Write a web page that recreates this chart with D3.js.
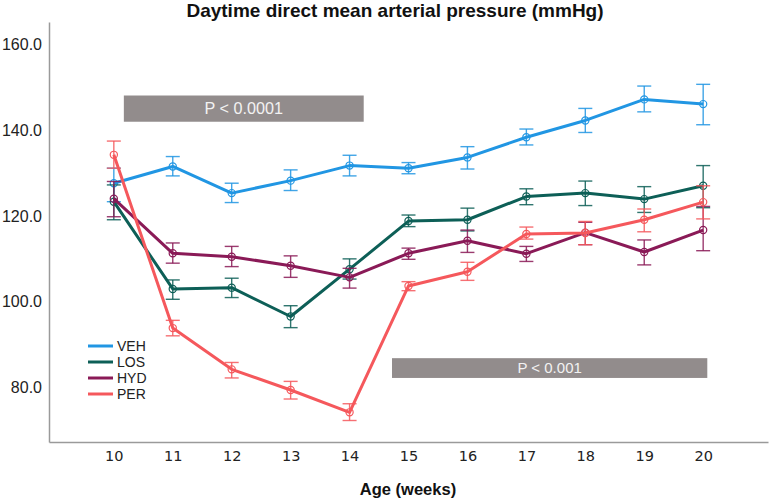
<!DOCTYPE html>
<html>
<head>
<meta charset="utf-8">
<script src="https://cdn.jsdelivr.net/npm/d3@7"></script>
<style>
  body { margin: 0; background: #fff; }
  svg { display: block; }
</style>
</head>
<body>
<svg id="chart"></svg>
<script>
// weeks of age
const weeks = [10, 11, 12, 13, 14, 15, 16, 17, 18, 19, 20];

// means and error bar ends
const vehMean = [127.6, 131.5, 125.3, 128.2, 131.7, 131.1, 133.6, 138.3, 142.2, 147.1, 146.0];
const vehLo   = [123.3, 129.3, 123.1, 125.9, 129.3, 129.8, 130.9, 136.5, 139.4, 144.2, 141.2];
const vehHi   = [131.1, 133.8, 127.6, 130.7, 134.1, 132.4, 136.1, 140.2, 145.0, 150.2, 150.6];

const losMean = [123.3, 103.0, 103.3, 96.6, 107.6, 118.8, 119.1, 124.5, 125.3, 123.9, 127.0];
const losLo   = [119.1, 100.6, 101.0, 94.0, 105.3, 117.5, 116.5, 122.6, 122.4, 120.8, 121.9];
const losHi   = [127.2, 105.1, 105.5, 99.1, 110.0, 120.2, 121.8, 126.3, 128.1, 126.8, 131.7];

const hydMean = [124.0, 111.3, 110.5, 108.4, 105.7, 111.3, 114.2, 111.2, 116.1, 111.6, 116.7];
const hydLo   = [119.8, 109.0, 108.2, 105.7, 103.2, 109.9, 111.5, 109.4, 113.3, 108.6, 111.9];
const hydHi   = [128.0, 113.7, 112.9, 110.7, 107.8, 112.5, 116.7, 112.9, 118.5, 114.4, 122.2];

const perMean = [134.2, 93.9, 84.3, 79.5, 74.3, 103.7, 107.0, 115.8, 116.0, 119.1, 123.2];
const perLo   = [131.1, 92.1, 82.3, 77.4, 72.4, 102.6, 105.0, 114.6, 113.3, 116.3, 119.3];
const perHi   = [137.4, 95.7, 85.9, 81.5, 76.3, 104.7, 109.2, 117.4, 118.7, 121.6, 127.0];

const groups = ["VEH", "LOS", "HYD", "PER"];
const yTicks = [80, 100, 120, 140, 160];

// significance bands: label, week span, value span
const bandLabels = ["P < 0.0001", "P < 0.001"];
const bandX = [[10.17, 14.24], [14.72, 20.07]];
const bandY = [[141.9, 148.0], [82.3, 86.9]];
const bandFont = [16.2, 15];

const colors = {VEH: "#2196e3", LOS: "#0d5f57", HYD: "#8a1a57", PER: "#f5585c"};

const series = [
    {name: "VEH", mean: vehMean, lo: vehLo, hi: vehHi},
    {name: "LOS", mean: losMean, lo: losLo, hi: losHi},
    {name: "HYD", mean: hydMean, lo: hydLo, hi: hydHi},
    {name: "PER", mean: perMean, lo: perLo, hi: perHi}
];

const W = 771, H = 501;
const margin = {top: 22, right: 3, bottom: 59, left: 49},
    width = W - margin.left - margin.right,
    height = H - margin.top - margin.bottom;

const svgRoot = d3.select("#chart")
    .attr("width", W)
    .attr("height", H);

const svg = svgRoot.append("g")
    .attr("transform", `translate(${margin.left},${margin.top})`);

const x = d3.scaleLinear()
    .domain([8.9, 21.1])
    .range([0, width]);

const y = d3.scaleLinear()
    .domain([67.4, 165.1])
    .range([height, 0]);

// significance bands
bandLabels.forEach((lab, i) => {
    svg.append("rect")
        .attr("x", x(bandX[i][0]))
        .attr("y", y(bandY[i][1]))
        .attr("width", x(bandX[i][1]) - x(bandX[i][0]))
        .attr("height", y(bandY[i][0]) - y(bandY[i][1]))
        .attr("fill", "#928c8c");
    svg.append("text")
        .attr("x", (x(bandX[i][0]) + x(bandX[i][1])) / 2)
        .attr("y", (y(bandY[i][0]) + y(bandY[i][1])) / 2)
        .attr("dy", "0.36em")
        .attr("text-anchor", "middle")
        .attr("font-family", "Liberation Sans, Arial, sans-serif")
        .attr("font-size", bandFont[i])
        .attr("fill", "#f2f2f2")
        .text(lab);
});

// axes
const yAxis = svg.append("g")
    .call(d3.axisLeft(y).tickValues(yTicks).tickSize(0).tickPadding(7).tickFormat(d3.format(".1f")));
yAxis.select(".domain").attr("stroke", "#9a9a9a").attr("stroke-width", 1.5);
yAxis.selectAll("text")
    .attr("font-family", "Liberation Sans, Arial, sans-serif")
    .attr("font-size", 16)
    .attr("fill", "#222");

const xAxis = svg.append("g")
    .attr("transform", `translate(0,${height})`)
    .call(d3.axisBottom(x).tickValues(weeks).tickSize(0).tickPadding(9).tickFormat(d3.format("d")));
xAxis.select(".domain").attr("stroke", "#9a9a9a").attr("stroke-width", 1.5);
xAxis.selectAll("text")
    .attr("font-family", "DejaVu Sans, Verdana, sans-serif")
    .attr("font-size", 14.5)
    .attr("fill", "#222");

// series: lines, error bars, hollow markers
const line = d3.line()
    .x((d, i) => x(weeks[i]))
    .y(d => y(d));

series.forEach(s => {
    const c = colors[s.name];
    const g = svg.append("g");

    g.append("path")
        .datum(s.mean)
        .attr("fill", "none")
        .attr("stroke", c)
        .attr("stroke-width", 3)
        .attr("stroke-linejoin", "round")
        .attr("d", line);

    weeks.forEach((w, i) => {
        const cx = x(w);
        g.append("line")
            .attr("x1", cx).attr("x2", cx)
            .attr("y1", y(s.lo[i])).attr("y2", y(s.hi[i]))
            .attr("stroke", c).attr("stroke-width", 1.4).attr("opacity", 0.85);
        [s.lo[i], s.hi[i]].forEach(v => {
            g.append("line")
                .attr("x1", cx - 7).attr("x2", cx + 7)
                .attr("y1", y(v)).attr("y2", y(v))
                .attr("stroke", c).attr("stroke-width", 1.4).attr("opacity", 0.85);
        });
        g.append("circle")
            .attr("cx", cx)
            .attr("cy", y(s.mean[i]))
            .attr("r", 3.6)
            .attr("fill", "none")
            .attr("stroke", c)
            .attr("stroke-width", 1.2);
    });
});

// legend
const legend = svg.append("g")
    .attr("transform", `translate(${88 - margin.left},${346 - margin.top})`);
groups.forEach((gname, i) => {
    legend.append("line")
        .attr("x1", 0).attr("x2", 25)
        .attr("y1", i * 16).attr("y2", i * 16)
        .attr("stroke", colors[gname])
        .attr("stroke-width", 3);
    legend.append("text")
        .attr("x", 29)
        .attr("y", i * 16)
        .attr("dy", "0.36em")
        .attr("font-family", "Liberation Sans, Arial, sans-serif")
        .attr("font-size", 14)
        .attr("fill", "#222")
        .text(gname);
});

// title
svgRoot.append("text")
    .attr("x", 395)
    .attr("y", 17)
    .attr("text-anchor", "middle")
    .attr("font-family", "Liberation Sans, Arial, sans-serif")
    .attr("font-weight", "bold")
    .attr("font-size", 19)
    .attr("fill", "#111")
    .text("Daytime direct mean arterial pressure (mmHg)");

// x axis label
svgRoot.append("text")
    .attr("x", 408)
    .attr("y", 495)
    .attr("text-anchor", "middle")
    .attr("font-family", "Liberation Sans, Arial, sans-serif")
    .attr("font-weight", "bold")
    .attr("font-size", 16.5)
    .attr("fill", "#111")
    .text("Age (weeks)");
</script>
</body>
</html>
